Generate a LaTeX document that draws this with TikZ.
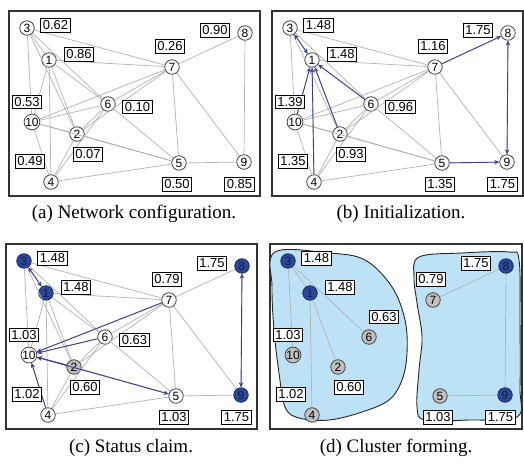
\documentclass[tikz,border=0pt]{standalone}
\usepackage{fontspec}
\setmainfont{Liberation Serif}
\setsansfont{Liberation Sans}
\usetikzlibrary{arrows.meta}

\definecolor{headblue}{RGB}{44,72,156}
\definecolor{pickblue}{RGB}{62,62,150}
\definecolor{clusterblue}{RGB}{190,226,245}
\definecolor{membergray}{RGB}{192,192,192}

\newcommand{\netnodes}{3/27/28, 1/49/60, 7/172/67, 8/245/33, 6/108/104, 10/32/122, 2/77/134, 5/179/163, 9/244/162, 4/51/182}
\newcommand{\netedges}{3/1, 3/7, 3/10, 3/6, 3/2, 1/7, 1/10, 1/2, 1/4, 1/6, 7/8, 7/6, 7/10, 7/2, 7/5, 7/9, 8/9, 6/10, 6/2, 6/4, 6/5, 10/2, 10/5, 10/4, 2/5, 2/4, 4/5, 5/9}

\tikzset{
  vtx/.style={circle, draw=gray!55!black, fill=white, line width=0.8pt, minimum size=14.5pt, inner sep=0pt, font=\sffamily\fontsize{12}{12}\selectfont},
  head/.style={fill=headblue, draw=headblue!60!black, text=headblue!45!black},
  member/.style={fill=membergray},
  k1/.style={}, k2/.style={}, k3/.style={}, k4/.style={}, k5/.style={},
  k6/.style={}, k7/.style={}, k8/.style={}, k9/.style={}, k10/.style={},
  weight/.style={draw, fill=white, line width=0.9pt, inner sep=2.2pt, font=\sffamily\fontsize{13}{13}\selectfont},
  link/.style={draw=gray!60, line width=0.7pt},
  pick/.style={draw=pickblue, line width=0.9pt, -{Stealth[length=5pt,width=4.5pt]}},
  twoway/.style={pick, {Stealth[length=5pt,width=4.5pt]}-{Stealth[length=5pt,width=4.5pt]}},
  panel/.style={draw=black!80, line width=1.2pt},
  cluster/.style={draw=black!85, line width=0.9pt, fill=clusterblue},
  caption/.style={font=\fontsize{19}{21}\selectfont}
}

\begin{document}
\begin{tikzpicture}[x=1pt, y=-1pt]
  \useasboundingbox (0,0) rectangle (524,465);

  % (a) network
  \begin{scope}
    \draw[panel] (9,11) rectangle (260,196);
    \foreach \n/\x/\y in \netnodes \node[vtx] (a\n) at (\x,\y) {\n};
    \foreach \u/\v in \netedges \draw[link] (a\u) -- (a\v);
    \foreach \n/\x/\y/\w in {3/55.5/25.5/0.62, 1/79/54.5/0.86, 7/170/46.5/0.26, 8/215/30.5/0.90, 10/27/102/0.53, 6/137.5/107/0.10, 2/88/154.5/0.07, 4/30/161.5/0.49, 5/177/184.5/0.50, 9/239.5/184.5/0.85}
    \node[weight] (a-w\n) at (\x,\y) {\w};
  \end{scope}

  % (b) initialization
  \begin{scope}[shift={(263,0)}]
    \draw[panel] (9,11) rectangle (260,196);
    \foreach \n/\x/\y in \netnodes \node[vtx] (b\n) at (\x,\y) {\n};
    \foreach \u/\v in \netedges \draw[link] (b\u) -- (b\v);
    % Arrows
    \foreach \u/\v in {10/1, 2/1, 4/1, 6/1, 7/8, 5/9} \draw[pick] (b\u) -- (b\v);
    \foreach \u/\v in {3/1, 8/9} \draw[twoway] (b\u) -- (b\v);
    \foreach \n/\x/\y/\w in {3/55.5/25.5/1.48, 1/79/54.5/1.48, 7/170/46.5/1.16, 8/215/30.5/1.75, 10/27/102/1.39, 6/137.5/107/0.96, 2/88/154.5/0.93, 4/30/161.5/1.35, 5/177/184.5/1.35, 9/239.5/184.5/1.75}
    \node[weight] (b-w\n) at (\x,\y) {\w};
  \end{scope}

  % (c) status claim
  \begin{scope}[shift={(-3,233)}, k3/.style=head, k1/.style=head, k8/.style=head, k9/.style=head, k2/.style=member]
    \draw[panel] (9,11) rectangle (260,196);
    \foreach \n/\x/\y in \netnodes \node[vtx, k\n] (c\n) at (\x,\y) {\n};
    \foreach \u/\v in \netedges \draw[link] (c\u) -- (c\v);
    % Arrows
    \foreach \u/\v in {7/10, 6/10, 2/10, 4/10} \draw[pick] (c\u) -- (c\v);
    \foreach \u/\v in {3/1, 8/9, 10/5} \draw[twoway] (c\u) -- (c\v);
    \foreach \n/\x/\y/\w in {3/55.5/25.5/1.48, 1/79/54.5/1.48, 7/170/46.5/0.79, 8/215/30.5/1.75, 10/27/102/1.03, 6/137.5/107/0.63, 2/88/154.5/0.60, 4/30/161.5/1.02, 5/177/184.5/1.03, 9/239.5/184.5/1.75}
    \node[weight] (c-w\n) at (\x,\y) {\w};
  \end{scope}

  % (d) clusters
  \begin{scope}[shift={(261,233)}, k3/.style=head, k1/.style=head, k8/.style=head, k9/.style=head,
      k2/.style=member, k4/.style=member, k5/.style=member, k6/.style=member, k7/.style=member, k10/.style=member]
    \draw[panel] (9,11) rectangle (261,196);
    \draw[cluster] plot[smooth cycle, tension=0.6] coordinates {(14,19) (68,20) (104,27) (131,54) (144,87) (146,120) (141,147) (128,167) (101,179) (68,187) (38,185) (24,174) (18,140) (13,97) (11,54)};
    \draw[cluster] plot[smooth cycle, tension=0.6] coordinates {(158,24) (201,20) (248,19) (258,27) (259,87) (259,154) (256,184) (208,187) (164,187) (156,174) (158,137) (161,104) (156,70) (153,44)};
    \foreach \n/\x/\y in \netnodes \node[vtx, k\n] (d\n) at (\x,\y) {\n};
    \foreach \u/\v in {3/1, 3/10, 3/6, 1/2, 1/4, 7/8, 8/9, 9/5} \draw[link] (d\u) -- (d\v);
    \foreach \n/\x/\y/\w in {3/55.5/25.5/1.48, 1/79/54.5/1.48, 7/170/46.5/0.79, 8/215/30.5/1.75, 10/27/102/1.03, 6/123/84/0.63, 2/88/154.5/0.60, 4/30/161.5/1.02, 5/177/184.5/1.03, 9/239.5/184.5/1.75}
    \node[weight] (d-w\n) at (\x,\y) {\w};
  \end{scope}

  % Captions
  \node[caption] (capa) at (134,214) {(a) Network configuration.};
  \node[caption] (capb) at (401,214) {(b) Initialization.};
  \node[caption] (capc) at (131,448) {(c) Status claim.};
  \node[caption] (capd) at (396,448) {(d) Cluster forming.};
\end{tikzpicture}
\end{document}
